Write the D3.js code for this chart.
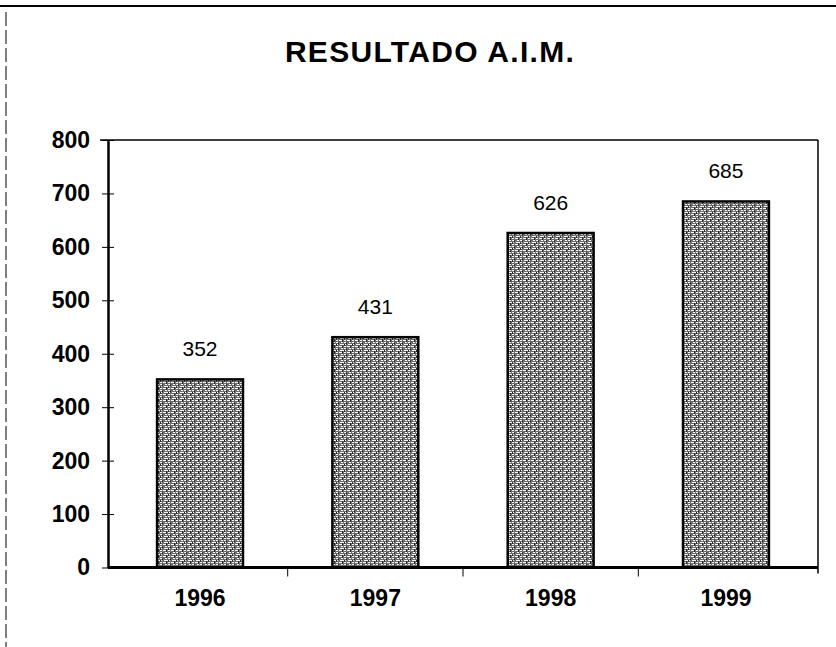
<!DOCTYPE html>
<html>
<head>
<meta charset="utf-8">
<script src="https://cdn.jsdelivr.net/npm/d3@7"></script>
<style>
  body { margin: 0; background: #fff; }
  text { font-family: Arial, "Liberation Sans", sans-serif; }
</style>
</head>
<body>
<svg width="836" height="647"></svg>
<script>
// data
const years = ["1996", "1997", "1998", "1999"]
const values = [352, 431, 626, 685]
const yTicks = [0, 100, 200, 300, 400, 500, 600, 700, 800]

const svg = d3.select("svg")
const width = +svg.attr("width")
const height = +svg.attr("height")

// plot frame
const plot = { left: 108, right: 818, top: 140, bottom: 567.5 }

const x = d3.scaleBand()
  .domain(years)
  .range([plot.left, plot.right])
  .paddingInner(0.51)
  .paddingOuter(0.28)

const y = d3.scaleLinear()
  .domain([0, 800])
  .range([plot.bottom, plot.top])

// speckled gray texture for the bars
const defs = svg.append("defs")
const pat = defs.append("pattern")
  .attr("id", "speckle")
  .attr("patternUnits", "userSpaceOnUse")
  .attr("width", 8)
  .attr("height", 6)
pat.append("rect").attr("width", 8).attr("height", 6).attr("fill", "#6e6e6e")
pat.append("path")
  .attr("d", "M0 0.5 H3 M5 0.5 H7 M1 2.5 H2 M4 2.5 H8 M0 4.5 H2 M3 4.5 H6")
  .attr("stroke", "#f4f4f4")
  .attr("stroke-width", 1)
pat.append("path")
  .attr("d", "M2.5 0 V2 M6.5 3 V6 M0.5 2 V4")
  .attr("stroke", "#1a1a1a")
  .attr("stroke-width", 0.8)

// page border lines (scanned look)
svg.append("line")
  .attr("x1", 0).attr("x2", width)
  .attr("y1", 6).attr("y2", 6)
  .attr("stroke", "#000").attr("stroke-width", 2)
svg.append("line")
  .attr("x1", 6).attr("x2", 6)
  .attr("y1", 12).attr("y2", height)
  .attr("stroke", "#000").attr("stroke-width", 1)
  .attr("stroke-dasharray", "14,4")

// title
svg.append("text")
  .attr("x", 430)
  .attr("y", 62)
  .attr("text-anchor", "middle")
  .attr("style", "font-size: 30px; font-weight: bold; letter-spacing: 1.3px")
  .text("RESULTADO A.I.M.")

// frame: top and right
svg.append("line")
  .attr("x1", plot.left - 8).attr("x2", plot.right)
  .attr("y1", plot.top).attr("y2", plot.top)
  .attr("stroke", "#000").attr("stroke-width", 1.5)
svg.append("line")
  .attr("x1", plot.right).attr("x2", plot.right)
  .attr("y1", plot.top).attr("y2", plot.bottom + 6)
  .attr("stroke", "#000").attr("stroke-width", 1.5)

// bars
svg.selectAll("rect.bar")
  .data(values)
  .join("rect")
  .attr("class", "bar")
  .attr("x", (d, i) => x(years[i]))
  .attr("width", x.bandwidth())
  .attr("y", d => y(d))
  .attr("height", d => y(0) - y(d))
  .attr("fill", "url(#speckle)")
  .attr("stroke", "#000")
  .attr("stroke-width", 2.5)

// value labels
svg.selectAll("text.val")
  .data(values)
  .join("text")
  .attr("class", "val")
  .attr("x", (d, i) => x(years[i]) + x.bandwidth() / 2)
  .attr("y", d => y(d) - 23)
  .attr("text-anchor", "middle")
  .attr("style", "font-size: 21px")
  .text(d => d)

// y axis
const yAxis = d3.axisLeft(y)
  .tickValues(yTicks)
  .tickSize(0)
  .tickPadding(18)
const gy = svg.append("g")
  .attr("transform", `translate(${plot.left},0)`)
  .call(yAxis)
gy.select(".domain").attr("stroke", "#000").attr("stroke-width", 2.5)
gy.selectAll("text")
  .attr("style", "font-size: 23px; font-weight: bold; font-family: Arial, 'Liberation Sans', sans-serif")
  .attr("fill", "#000")
gy.selectAll(".tick").append("line")
  .attr("x1", -6).attr("x2", 6)
  .attr("stroke", "#000").attr("stroke-width", 1)

// x axis
const xAxis = d3.axisBottom(x)
  .tickSize(0)
  .tickPadding(22)
const gx = svg.append("g")
  .attr("transform", `translate(0,${plot.bottom})`)
  .call(xAxis)
gx.select(".domain").remove()
gx.append("line")
  .attr("x1", plot.left).attr("x2", plot.right)
  .attr("stroke", "#000").attr("stroke-width", 3)
gx.selectAll("text")
  .attr("style", "font-size: 23px; font-weight: bold; font-family: Arial, 'Liberation Sans', sans-serif")
  .attr("fill", "#000")

// small separators between categories
const seps = years.slice(1).map(yr => x(yr) - x.step() * x.paddingInner() / 2)
gx.selectAll("line.sep")
  .data(seps)
  .join("line")
  .attr("class", "sep")
  .attr("x1", d => d).attr("x2", d => d)
  .attr("y1", 0).attr("y2", 9)
  .attr("stroke", "#000").attr("stroke-width", 1)
</script>
</body>
</html>
